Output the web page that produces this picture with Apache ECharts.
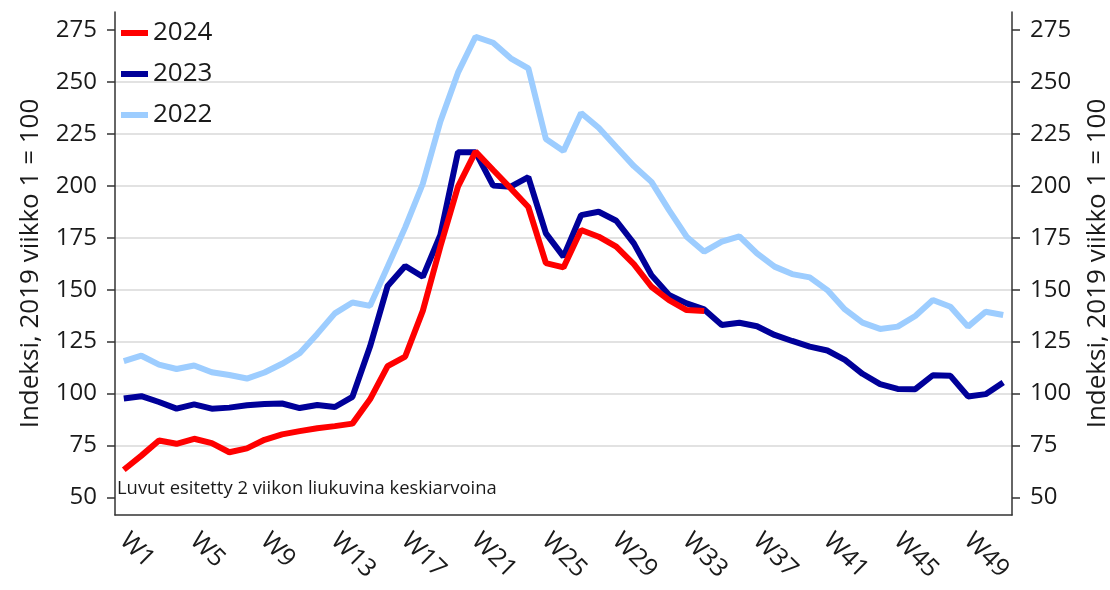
<!DOCTYPE html>
<html>
<head>
<meta charset="utf-8">
<script src="https://cdn.jsdelivr.net/npm/echarts@6/dist/echarts.min.js"></script>
<style>
  html, body { margin: 0; padding: 0; background: #fff; }
  #chart { width: 1110px; height: 590px; }
</style>
</head>
<body>
<div id="chart"></div>
<script>
// viikot
var weeks = ['W1','W2','W3','W4','W5','W6','W7','W8','W9','W10',
  'W11','W12','W13','W14','W15','W16','W17','W18','W19','W20',
  'W21','W22','W23','W24','W25','W26','W27','W28','W29','W30',
  'W31','W32','W33','W34','W35','W36','W37','W38','W39','W40',
  'W41','W42','W43','W44','W45','W46','W47','W48','W49','W50','W51'];

var y2022 = [115.6, 118.2, 113.9, 111.8, 113.5, 110.2, 108.9, 107.2, 110.1, 114.3,
  119.4, 128.7, 138.6, 143.8, 142.2, 161, 180, 201, 231, 254.5,
  271.8, 268.9, 261.4, 256.6, 222.5, 216.8, 235.1, 228, 218.7, 209.5,
  201.9, 188.3, 175.5, 168.3, 173.1, 175.7, 167.5, 161.1, 157.5, 155.9,
  149.8, 140.5, 134.1, 131.1, 132.2, 137.3, 145, 141.8, 132.2, 139.4, 137.8];

var y2023 = [97.6, 98.7, 95.9, 92.7, 94.8, 92.7, 93.2, 94.3, 95, 95.2,
  93, 94.5, 93.5, 98.4, 122.6, 151.8, 161.4, 156.2, 176.4, 216.2,
  216.2, 200.1, 199.6, 204.2, 177.1, 165.9, 185.9, 187.5, 183.2, 172.3,
  157, 147.4, 143.4, 140.5, 133, 134.1, 132.4, 128.2, 125.3, 122.6,
  120.7, 116.2, 109.5, 104.5, 102.2, 102.1, 108.8, 108.5, 98.6, 99.7, 105.3];

var y2024 = [63.3, 70.1, 77.4, 75.8, 78.2, 76.1, 71.7, 73.6, 77.7, 80.3,
  81.9, 83.3, 84.3, 85.5, 97.2, 113.2, 117.8, 139.8, 170.8, 199.6,
  216.5, 207.6, 198.8, 189.8, 162.8, 160.7, 178.7, 175.5, 170.7, 162.3,
  151.4, 145, 140.2, 139.7];

var yTicks = [50, 75, 100, 125, 150, 175, 200, 225, 250, 275];

var yMin = 41.5;
var yMax = 283.7;
var axisName = 'Indeksi, 2019 viikko 1 = 100';
var fontName = 'Open Sans';

function yAxisOpt(pos, gap) {
    return {
        type: 'value',
        position: pos,
        min: yMin,
        max: yMax,
        minInterval: 25,
        maxInterval: 25,
        name: axisName,
        nameLocation: 'middle',
        nameGap: gap,
        nameTextStyle: { fontSize: 26, color: '#1a1a1a', fontFamily: fontName },
        axisLine: { show: true, lineStyle: { color: '#333', width: 1.5 } },
        axisTick: { show: true, length: 8, customValues: yTicks, lineStyle: { color: '#333', width: 1.5 } },
        axisLabel: {
            customValues: yTicks,
            margin: 18,
            fontSize: 24,
            color: '#1a1a1a',
            fontFamily: fontName
        },
        splitLine: {
            show: pos === 'left',
            showMinLine: false,
            showMaxLine: false,
            lineStyle: { color: '#d9d9d9', width: 1.5 }
        }
    };
}

var chart = echarts.init(document.getElementById('chart'));
chart.setOption({
    animation: false,
    textStyle: { fontFamily: fontName },
    color: ['#9dcdff', '#000099', '#ff0000'],
    title: {
        text: 'Luvut esitetty 2 viikon liukuvina keskiarvoina',
        left: 117,
        top: 480,
        padding: 0,
        textStyle: { fontSize: 18.4, fontWeight: 'normal', color: '#1a1a1a', fontFamily: fontName }
    },
    legend: {
        orient: 'vertical',
        left: 121,
        top: 20,
        padding: 0,
        icon: 'rect',
        itemWidth: 27,
        itemHeight: 6,
        itemGap: 15,
        data: ['2024', '2023', '2022'],
        textStyle: { fontSize: 26, color: '#1a1a1a', fontFamily: fontName }
    },
    grid: { left: 115, right: 98, top: 12, bottom: 75, outerBoundsMode: 'none' },
    xAxis: {
        type: 'category',
        data: weeks,
        boundaryGap: true,
        axisLine: { lineStyle: { color: '#333', width: 1.5 } },
        axisTick: { interval: 3, length: 8, lineStyle: { color: '#333', width: 1.5 } },
        axisLabel: {
            interval: 3,
            rotate: -45,
            margin: 22,
            padding: [14, 0, 0, 0],
            fontSize: 25,
            color: '#1a1a1a',
            fontFamily: fontName
        },
        splitLine: { show: false }
    },
    yAxis: [yAxisOpt('left', 71), yAxisOpt('right', 73)],
    series: [
        {
            name: '2022',
            type: 'line',
            data: y2022,
            showSymbol: false,
            lineStyle: { width: 6 }
        },
        {
            name: '2023',
            type: 'line',
            data: y2023,
            showSymbol: false,
            lineStyle: { width: 6 }
        },
        {
            name: '2024',
            type: 'line',
            data: y2024,
            showSymbol: false,
            lineStyle: { width: 6 }
        }
    ]
});
</script>
</body>
</html>
